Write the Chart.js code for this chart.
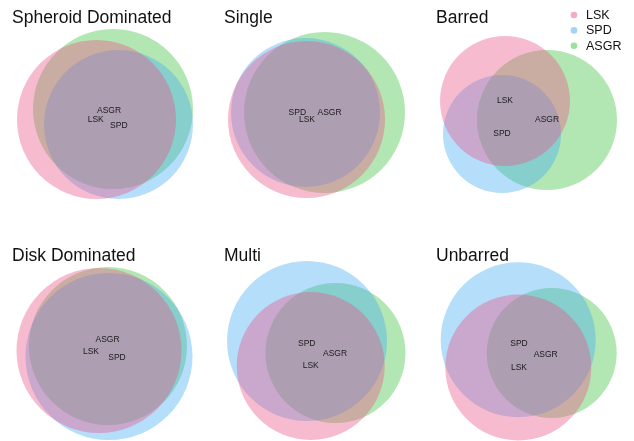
<!DOCTYPE html>
<html>
<head>
<meta charset="utf-8">
<script src="https://cdn.jsdelivr.net/npm/chart.js@4.4.0/dist/chart.umd.min.js"></script>
<style>
  html, body { margin: 0; padding: 0; background: #fff; }
  #wrap { position: relative; width: 634px; height: 441px; overflow: hidden; }
  #wrap canvas { position: absolute; }
</style>
</head>
<body>
<div id="wrap"></div>
<script>
// panel titles and set names
const panelTitles = ['Spheroid Dominated', 'Single', 'Barred', 'Disk Dominated', 'Multi', 'Unbarred'];
const setNames = ['LSK', 'SPD', 'ASGR'];

// circle centres / radii for each panel (panel units)
const lskX = [96.5, 94.5, 81, 99, 98.7, 94.3];
const lskY = [119.5, 119.5, 101, 112.5, 128, 129.5];
const lskR = [79.5, 78.5, 65, 82.5, 74, 73];

const spdX = [118.5, 93.5, 78, 109, 95, 94.2];
const spdY = [124.5, 112.5, 134, 118.5, 103, 101.8];
const spdR = [74.5, 74.5, 59, 83.5, 80, 77.5];

const asgrX = [113, 112.5, 123, 108, 123.5, 127.7];
const asgrY = [109, 112.5, 120, 108, 115, 115];
const asgrR = [80, 80.5, 70, 79, 70, 65];

// where the set names are written (pushed apart when they collide)
const lskLabelX = [95.7, 95, 81, 91, 98.7, 95];
const lskLabelY = [119.5, 120, 101, 114, 127.7, 129.7];
const spdLabelX = [118.8, 85.3, 78, 117, 94.7, 95];
const spdLabelY = [125.3, 112.7, 134, 120, 106, 105.3];
const asgrLabelX = [109, 117.5, 123, 107.5, 123, 121.7];
const asgrLabelY = [110.5, 112.5, 120, 101.7, 115.3, 117];

const setX = [lskX, spdX, asgrX];
const setY = [lskY, spdY, asgrY];
const setR = [lskR, spdR, asgrR];
const labelX = [lskLabelX, spdLabelX, asgrLabelX];
const labelY = [lskLabelY, spdLabelY, asgrLabelY];

// colours: pink, blue, green
const fills = ['rgba(236, 84, 138, 0.4)', 'rgba(68, 172, 242, 0.4)', 'rgba(62, 192, 62, 0.4)'];
const dotColors = ['rgba(236, 84, 138, 0.5)', 'rgba(68, 172, 242, 0.5)', 'rgba(62, 192, 62, 0.5)'];
const drawOrder = [0, 1, 2]; // pink on top, green at the bottom

// panel boxes on the page
const boxLeft = [0, 212, 424, 0, 212, 424];
const boxTop = [0, 0, 0, 238, 238, 238];
const boxW = [212, 212, 210, 212, 212, 210];
const boxH = [238, 238, 238, 203, 203, 203];

// radius in data units -> pixels, through the x scale
function radiusPx(chart, r) {
  const sx = chart.scales.x;
  return Math.abs(sx.getPixelForValue(r) - sx.getPixelForValue(0));
}

const titlePlugin = {
  id: 'panelTitle',
  afterDraw(chart, args, opts) {
    const ctx = chart.ctx;
    ctx.save();
    ctx.font = '17.5px "Liberation Sans", Arial, sans-serif';
    ctx.fillStyle = '#111';
    ctx.textAlign = 'left';
    ctx.textBaseline = 'alphabetic';
    ctx.fillText(opts.text, 12, 22.7);
    ctx.restore();
  }
};

const setLabelPlugin = {
  id: 'setLabels',
  afterDatasetsDraw(chart, args, opts) {
    const ctx = chart.ctx;
    const sx = chart.scales.x, sy = chart.scales.y;
    ctx.save();
    ctx.font = '8.5px "Liberation Sans", Arial, sans-serif';
    ctx.fillStyle = '#1a1a1a';
    ctx.textAlign = 'center';
    ctx.textBaseline = 'middle';
    setNames.forEach((name, k) => {
      ctx.fillText(name, sx.getPixelForValue(labelX[k][opts.panel]), sy.getPixelForValue(labelY[k][opts.panel]));
    });
    ctx.restore();
  }
};

const legendPlugin = {
  id: 'dotLegend',
  afterDraw(chart, args, opts) {
    if (!opts.show) return;
    const ctx = chart.ctx;
    ctx.save();
    ctx.font = '12.5px "Liberation Sans", Arial, sans-serif';
    ctx.textAlign = 'left';
    ctx.textBaseline = 'middle';
    chart.data.datasets.forEach((ds, k) => {
      const y = 15 + k * 15.4;
      ctx.fillStyle = dotColors[k];
      ctx.beginPath();
      ctx.arc(150, y, 3.3, 0, Math.PI * 2);
      ctx.fill();
      ctx.fillStyle = '#111';
      ctx.fillText(ds.label, 162, y + 0.5);
    });
    ctx.restore();
  }
};

const wrap = document.getElementById('wrap');
panelTitles.forEach((title, i) => {
  const cv = document.createElement('canvas');
  cv.width = boxW[i];
  cv.height = boxH[i];
  cv.style.left = boxLeft[i] + 'px';
  cv.style.top = boxTop[i] + 'px';
  cv.style.width = boxW[i] + 'px';
  cv.style.height = boxH[i] + 'px';
  wrap.appendChild(cv);

  const chart = new Chart(cv, {
    type: 'bubble',
    data: {
      datasets: setNames.map((name, k) => ({
        label: name,
        data: [{ x: setX[k][i], y: setY[k][i], r: 0 }],
        backgroundColor: fills[k],
        borderWidth: 0,
        order: drawOrder[k]
      }))
    },
    options: {
      responsive: false,
      animation: false,
      events: [],
      layout: { padding: 0, autoPadding: false },
      clip: false,
      scales: {
        x: { type: 'linear', min: 0, max: boxW[i], display: false },
        y: { type: 'linear', min: 0, max: boxH[i], reverse: true, display: false }
      },
      plugins: {
        legend: { display: false },
        tooltip: { enabled: false },
        panelTitle: { text: title },
        setLabels: { panel: i },
        dotLegend: { show: i === 2 }
      }
    },
    plugins: [titlePlugin, setLabelPlugin, legendPlugin]
  });

  // now the scales are laid out: convert radii to pixels and redraw
  chart.data.datasets.forEach((ds, k) => {
    ds.data = [{ x: setX[k][i], y: setY[k][i], r: radiusPx(chart, setR[k][i]) }];
  });
  chart.update();
});
</script>
</body>
</html>
